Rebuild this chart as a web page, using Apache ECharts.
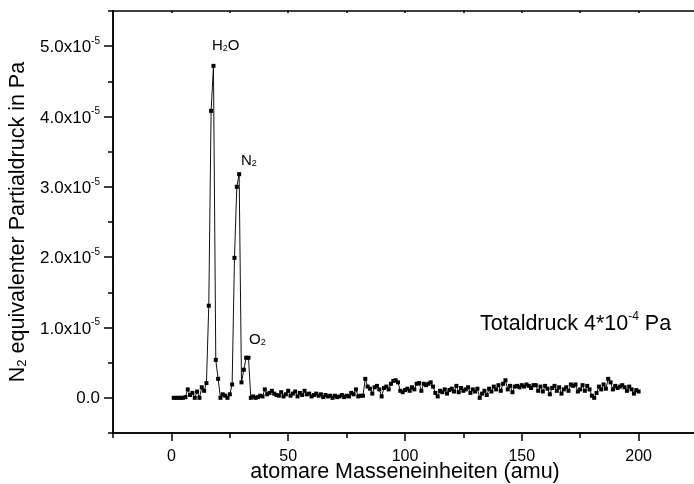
<!DOCTYPE html>
<html>
<head>
<meta charset="utf-8">
<script src="https://cdn.jsdelivr.net/npm/echarts@6/dist/echarts.min.js"></script>
<style>
  html, body { margin: 0; background: #fff; }
  #chart { width: 694px; height: 484px; }
</style>
</head>
<body>
<div id="chart"></div>
<script>
// Massenzahl (amu)
const amu = [
  1, 2, 3, 4, 5, 6, 7, 8, 9, 10, 11, 12, 13, 14, 15, 16, 17, 18, 19, 20,
  21, 22, 23, 24, 25, 26, 27, 28, 29, 30, 31, 32, 33, 34, 35, 36, 37, 38, 39, 40,
  41, 42, 43, 44, 45, 46, 47, 48, 49, 50, 51, 52, 53, 54, 55, 56, 57, 58, 59, 60,
  61, 62, 63, 64, 65, 66, 67, 68, 69, 70, 71, 72, 73, 74, 75, 76, 77, 78, 79, 80,
  81, 82, 83, 84, 85, 86, 87, 88, 89, 90, 91, 92, 93, 94, 95, 96, 97, 98, 99, 100,
  101, 102, 103, 104, 105, 106, 107, 108, 109, 110, 111, 112, 113, 114, 115, 116, 117, 118, 119, 120,
  121, 122, 123, 124, 125, 126, 127, 128, 129, 130, 131, 132, 133, 134, 135, 136, 137, 138, 139, 140,
  141, 142, 143, 144, 145, 146, 147, 148, 149, 150, 151, 152, 153, 154, 155, 156, 157, 158, 159, 160,
  161, 162, 163, 164, 165, 166, 167, 168, 169, 170, 171, 172, 173, 174, 175, 176, 177, 178, 179, 180,
  181, 182, 183, 184, 185, 186, 187, 188, 189, 190, 191, 192, 193, 194, 195, 196, 197, 198, 199, 200
];

// N2-aequivalenter Partialdruck, in Einheiten von 1e-5 Pa
const pressureE5 = [
  0, 0, 0, 0, 0, 0.01, 0.12, 0.04, 0.07, 0, 0.09, 0, 0.15, 0.1, 0.21,
  1.31, 4.08, 4.72, 0.54, 0.27, 0, 0.05, 0.03, 0, 0.05, 0.19, 1.99, 3.0, 3.18, 0.22, 0.4, 0.57, 0.57, 0,
  0.02, 0, 0.01, 0.03, 0.02, 0.12, 0.05, 0.07, 0.1, 0.06,
  0.04, 0.03, 0.08, 0.02, 0.05, 0.1, 0.03, 0.06, 0.09, 0.02,
  0.07, 0.04, 0.1, 0.05, 0.06, 0.02, 0.04, 0.06, 0.03, 0.05,
  0.01, 0.04, 0.02, 0.03, 0, 0.03, 0.01, 0.02, 0.04, 0.01,
  0.03, 0.02, 0.07, 0.05, 0.12, 0.02, 0.03, 0.03,
  0.27, 0.16, 0.13, 0.06, 0.15, 0.17, 0.12, 0.02, 0.14, 0.16,
  0.12, 0.2, 0.24, 0.25, 0.22, 0.1, 0.08, 0.11, 0.13, 0.1,
  0.15, 0.12, 0.2, 0.21, 0.1, 0.2, 0.18, 0.2, 0.22, 0.16,
  0.07, 0.02, 0.1, 0.08, 0.12, 0.06, 0.11, 0.13, 0.09, 0.17,
  0.08, 0.14, 0.1, 0.12, 0.15, 0.07, 0.12, 0.09, 0.13, 0,
  0.06, 0.1, 0.04, 0.13, 0.09, 0.16, 0.12, 0.18, 0.1, 0.2,
  0.25, 0.12, 0.17, 0.08, 0.16, 0.17, 0.15, 0.18, 0.16, 0.19,
  0.17, 0.14, 0.18, 0.18, 0.1, 0.16, 0.09, 0.17, 0.13, 0.05,
  0.14, 0.17, 0.1, 0.15, 0.06, 0.12, 0.15, 0.1, 0.19, 0.17,
  0.19, 0.09, 0.12, 0.18, 0.1, 0.17, 0.12, 0.03, 0, 0.07,
  0.16, 0.12, 0.19, 0.13, 0.27, 0.22, 0.12, 0.17, 0.14, 0.16,
  0.18, 0.15, 0.1, 0.16, 0.12, 0.06, 0.11, 0.09
];

const xTickLabels = [0, 50, 100, 150, 200];
const yTickLabels = [0, 1, 2, 3, 4, 5];

const FONT = '"Liberation Sans", Arial, Helvetica, sans-serif';
const BLACK = '#000';

const chart = echarts.init(document.getElementById('chart'), null, { renderer: 'canvas' });

const axisLine = { show: true, onZero: false, lineStyle: { color: BLACK, width: 1.5 } };

function yLabel(v) {
  if (v === 0) return '0.0';
  return '{m|' + v.toFixed(1) + 'x10}{s|-5}';
}

const subRich = {
  a: { fontSize: 15, fontFamily: FONT, fill: BLACK, lineHeight: 17, verticalAlign: 'bottom' },
  b: { fontSize: 9, fontFamily: FONT, fill: BLACK, lineHeight: 9, verticalAlign: 'bottom' }
};

const option = {
  animation: false,
  backgroundColor: '#fff',
  grid: { left: 113, top: 11, width: 584, height: 422, containLabel: false, outerBoundsMode: 'none' },
  xAxis: [
    {
      type: 'value', min: -25, max: 225, position: 'bottom',
      axisLine,
      splitLine: { show: false },
      axisTick: { customValues: xTickLabels, length: 8, lineStyle: { color: BLACK, width: 1.5 } },
      axisLabel: { customValues: xTickLabels, color: BLACK, fontSize: 16, fontFamily: FONT, margin: 16 },
      name: 'atomare Masseneinheiten (amu)',
      nameLocation: 'middle',
      nameGap: 28,
      nameMoveOverlap: false,
      nameTextStyle: { color: BLACK, fontSize: 21.5, fontFamily: FONT }
    },
    {
      type: 'value', min: -25, max: 225, interval: 25, position: 'bottom',
      axisLine,
      splitLine: { show: false },
      axisTick: { length: 5, lineStyle: { color: BLACK, width: 1.5 } },
      axisLabel: { show: false }
    },
    {
      type: 'value', min: -25, max: 225, interval: 25, position: 'top',
      axisLine,
      splitLine: { show: false },
      axisTick: { inside: true, length: 2, lineStyle: { color: BLACK, width: 1.5 } },
      axisLabel: { show: false }
    }
  ],
  yAxis: [
    {
      type: 'value', min: -0.5, max: 5.5, position: 'left',
      axisLine,
      splitLine: { show: false },
      axisTick: { customValues: yTickLabels, length: 9, lineStyle: { color: BLACK, width: 1.5 } },
      axisLabel: {
        customValues: yTickLabels, formatter: yLabel, margin: 13,
        color: BLACK, fontSize: 17, fontFamily: FONT,
        rich: {
          m: { color: BLACK, fontSize: 17, fontFamily: FONT, lineHeight: 20, verticalAlign: 'bottom' },
          s: { color: BLACK, fontSize: 10, fontFamily: FONT, lineHeight: 10, verticalAlign: 'top' }
        }
      },
      name: '{n|N}{sub|2}{n| equivalenter Partialdruck in Pa}',
      nameLocation: 'middle',
      nameGap: 84,
      nameMoveOverlap: false,
      nameTextStyle: {
        color: BLACK, fontSize: 21.5, fontFamily: FONT,
        rich: {
          n: { color: BLACK, fontSize: 21.5, fontFamily: FONT, lineHeight: 24, verticalAlign: 'bottom' },
          sub: { color: BLACK, fontSize: 13, fontFamily: FONT, lineHeight: 12, verticalAlign: 'bottom' }
        }
      }
    },
    {
      type: 'value', min: -0.5, max: 5.5, interval: 0.5, position: 'left',
      axisLine,
      splitLine: { show: false },
      axisTick: { length: 5, lineStyle: { color: BLACK, width: 1.5 } },
      axisLabel: { show: false }
    }
  ],
  series: [
    {
      type: 'line',
      xAxisIndex: 0,
      yAxisIndex: 0,
      data: amu.map((m, i) => [m, pressureE5[i]]),
      symbol: 'rect',
      symbolSize: 4,
      showSymbol: true,
      itemStyle: { color: BLACK },
      lineStyle: { color: '#111', width: 1 },
      emphasis: { disabled: true }
    }
  ],
  graphic: [
    {
      type: 'text', left: 212, top: 38,
      style: { text: '{a|H}{b|2}{a|O}', fill: BLACK, font: '15px ' + FONT, rich: subRich }
    },
    {
      type: 'text', left: 241, top: 153,
      style: { text: '{a|N}{b|2}', fill: BLACK, font: '15px ' + FONT, rich: subRich }
    },
    {
      type: 'text', left: 249, top: 332,
      style: { text: '{a|O}{b|2}', fill: BLACK, font: '15px ' + FONT, rich: subRich }
    },
    {
      type: 'text', left: 480, top: 311,
      style: {
        text: '{a|Totaldruck 4*10}{s|-4}{a| Pa}', fill: BLACK, font: '21.5px ' + FONT,
        rich: {
          a: { fontSize: 21.5, fontFamily: FONT, fill: BLACK, lineHeight: 24, verticalAlign: 'bottom' },
          s: { fontSize: 12, fontFamily: FONT, fill: BLACK, lineHeight: 12, verticalAlign: 'top' }
        }
      }
    }
  ]
};

chart.setOption(option);
</script>
</body>
</html>
